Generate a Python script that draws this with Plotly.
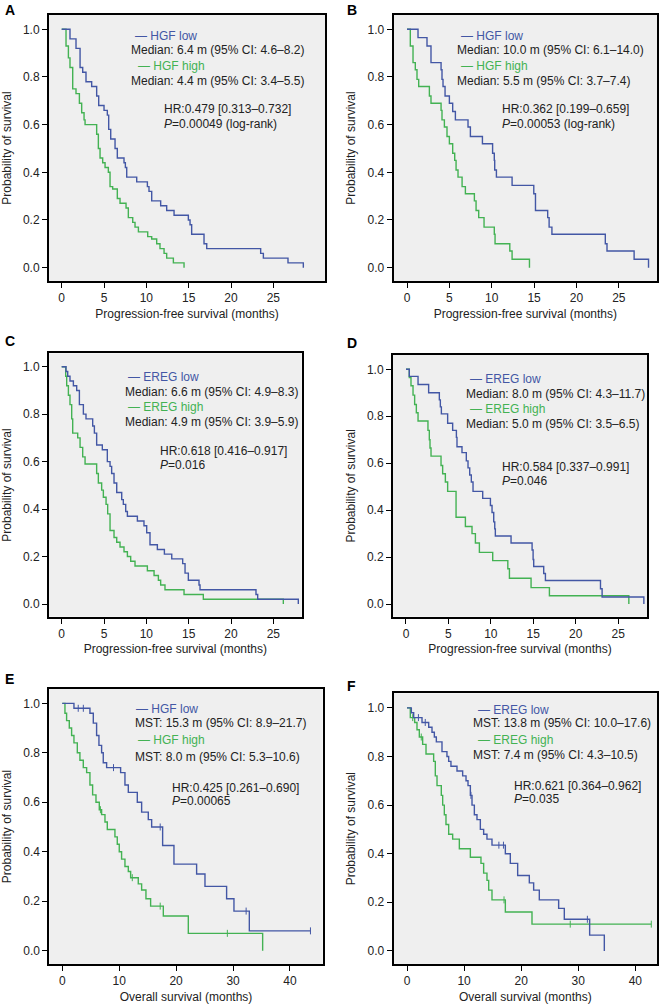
import plotly.graph_objects as go

# ---- data (months, survival probability) ----
a_low_t = [0.98, 1.69, 2.17, 2.48, 2.87, 3.54, 4.13, 4.37, 5.0, 5.39, 5.55, 5.79, 6.3, 6.57, 7.36, 7.52, 7.68,
           8.86, 10.12, 10.31, 10.63, 11.69, 12.4, 13.27, 14.96, 15.16, 15.35, 16.81, 17.13, 23.5, 23.82, 26.73, 28.54]
a_low_s = [0.96, 0.92, 0.84, 0.82, 0.78, 0.76, 0.72, 0.68, 0.66, 0.64, 0.58, 0.54, 0.50, 0.46, 0.44, 0.42, 0.38,
           0.36, 0.34, 0.32, 0.28, 0.26, 0.24, 0.22, 0.20, 0.18, 0.14, 0.10, 0.08, 0.06, 0.04, 0.02, 0.0]
a_high_t = [0.51, 0.79, 0.98, 1.30, 1.69, 2.09, 2.36, 2.64, 2.76, 4.13, 4.33, 4.53, 4.84, 5.12, 5.51, 5.71, 6.02,
            6.57, 6.89, 7.6, 7.87, 8.39, 8.66, 9.06, 10.16, 10.63, 11.22, 11.61, 12.09, 12.4, 13.19, 14.45]
a_high_s = [0.93, 0.88, 0.84, 0.75, 0.73, 0.69, 0.65, 0.62, 0.60, 0.56, 0.50, 0.46, 0.44, 0.42, 0.40, 0.34, 0.33,
            0.29, 0.27, 0.25, 0.21, 0.19, 0.17, 0.15, 0.13, 0.12, 0.10, 0.08, 0.06, 0.04, 0.02, 0.0]

b_low_t = [1.3, 2.36, 2.83, 4.02, 4.13, 4.25, 4.49, 5.0, 5.39, 5.71, 7.2, 7.48, 8.9, 10.1, 10.3, 10.35, 10.55,
           12.4, 14.96, 15.16, 16.6, 16.77, 17.1, 23.4, 23.6, 26.8, 28.5]
b_low_s = [0.965, 0.93, 0.86, 0.83, 0.79, 0.76, 0.72, 0.69, 0.655, 0.62, 0.59, 0.55, 0.52, 0.48, 0.45, 0.41, 0.38,
           0.345, 0.31, 0.24, 0.21, 0.17, 0.14, 0.10, 0.07, 0.035, 0.0]
b_high_t = [0.39, 0.71, 0.98, 1.18, 1.38, 2.64, 2.83, 4.02, 4.13, 4.41, 4.72, 5.0, 5.39, 5.63, 5.79, 6.02, 6.5,
            6.89, 7.95, 8.15, 8.46, 9.09, 10.3, 10.39, 12.13, 12.4, 14.45]
b_high_s = [0.93, 0.86, 0.83, 0.79, 0.76, 0.72, 0.69, 0.66, 0.62, 0.59, 0.55, 0.52, 0.48, 0.45, 0.41, 0.38, 0.34,
            0.31, 0.28, 0.24, 0.21, 0.17, 0.14, 0.10, 0.07, 0.035, 0.0]

c_low_t = [0.51, 0.71, 0.98, 1.38, 1.77, 2.09, 2.56, 2.87, 3.66, 3.86, 4.13, 4.8, 5.39, 5.71, 5.9, 6.18, 6.5,
           7.09, 7.28, 7.56, 7.76, 8.94, 9.72, 10.04, 10.43, 11.3, 12.13, 13.0, 14.29, 14.57, 14.96, 16.22, 16.34,
           22.95, 23.15, 27.95]
c_low_s = [0.98, 0.96, 0.94, 0.92, 0.90, 0.84, 0.80, 0.78, 0.75, 0.72, 0.67, 0.65, 0.60, 0.58, 0.55, 0.51, 0.47,
           0.44, 0.42, 0.39, 0.37, 0.35, 0.33, 0.30, 0.25, 0.23, 0.21, 0.19, 0.17, 0.13, 0.10, 0.08, 0.06,
           0.04, 0.02, 0.0]
c_high_t = [0.47, 0.59, 0.79, 0.98, 1.18, 1.30, 1.89, 2.17, 2.48, 2.76, 4.13, 4.33, 4.72, 4.92, 5.24, 5.43, 5.71,
            6.18, 6.5, 6.89, 7.36, 7.76, 8.15, 8.66, 10.12, 10.91, 11.42, 11.69, 12.2, 14.45, 16.73, 26.18]
c_high_s = [0.96, 0.92, 0.88, 0.84, 0.78, 0.72, 0.70, 0.66, 0.62, 0.59, 0.55, 0.51, 0.48, 0.45, 0.42, 0.38, 0.31,
            0.28, 0.26, 0.24, 0.22, 0.20, 0.18, 0.16, 0.14, 0.12, 0.10, 0.08, 0.06, 0.04, 0.02, 0.0]

d_low_t = [0.39, 1.42, 2.67, 3.93, 4.05, 4.17, 4.91, 5.5, 5.94, 6.01, 6.6, 7.11, 7.31, 7.51, 7.7, 7.9, 9.04,
           9.95, 10.14, 10.34, 10.46, 10.53, 12.38, 14.86, 14.98, 15.05, 16.23, 16.43, 22.92, 23.11, 28.03]
d_low_s = [0.97, 0.935, 0.90, 0.87, 0.84, 0.81, 0.77, 0.74, 0.71, 0.67, 0.645, 0.61, 0.58, 0.55, 0.52, 0.48, 0.45,
           0.42, 0.39, 0.35, 0.32, 0.29, 0.26, 0.23, 0.19, 0.16, 0.13, 0.10, 0.065, 0.03, 0.0]
d_high_t = [0.39, 0.59, 0.83, 1.02, 1.22, 1.42, 2.59, 2.75, 2.83, 2.95, 4.13, 4.32, 4.64, 4.91, 5.9, 7.0, 7.78,
            8.18, 8.65, 10.22, 12.0, 12.19, 14.74, 16.9, 26.26]
d_high_s = [0.965, 0.93, 0.89, 0.85, 0.815, 0.78, 0.74, 0.70, 0.665, 0.63, 0.59, 0.555, 0.52, 0.48, 0.37, 0.33, 0.30,
            0.26, 0.22, 0.185, 0.15, 0.11, 0.07, 0.035, 0.0]

e_low_t = [2.05, 4.86, 5.45, 6.03, 6.44, 6.91, 7.2, 7.79, 10.25, 11.01, 11.6, 13.18, 13.94, 15.11, 15.7, 17.63,
           19.62, 23.6, 25.07, 28.87, 30.16, 32.86]
e_low_s = [0.98, 0.96, 0.92, 0.87, 0.83, 0.80, 0.76, 0.74, 0.72, 0.67, 0.64, 0.60, 0.56, 0.53, 0.50, 0.425,
           0.35, 0.31, 0.26, 0.21, 0.16, 0.08]
e_low_end = 43.6
e_low_cens = [2.8, 3.7, 9.0, 17.2, 32.3, 43.6]
e_high_t = [0.47, 0.76, 1.23, 1.64, 2.05, 2.64, 3.1, 3.69, 4.28, 4.86, 5.33, 5.92, 6.5, 6.91, 7.5, 7.91, 9.25,
            9.66, 10.01, 10.42, 11.01, 11.6, 12.01, 13.35, 13.94, 14.7, 15.52, 17.75, 22.14, 35.2]
e_high_s = [0.96, 0.93, 0.90, 0.87, 0.84, 0.80, 0.77, 0.74, 0.72, 0.67, 0.63, 0.60, 0.57, 0.55, 0.52, 0.49, 0.46,
            0.43, 0.40, 0.37, 0.34, 0.32, 0.295, 0.27, 0.245, 0.21, 0.18, 0.14, 0.07, 0.0]
e_high_cens = [6.7, 12.3, 17.2, 29.0]

f_low_t = [0.76, 1.17, 2.63, 3.8, 4.38, 4.79, 5.14, 6.13, 7.0, 7.3, 7.7, 8.76, 9.75, 10.34, 10.69, 11.1, 11.39,
           11.8, 12.26, 12.85, 13.43, 14.01, 14.89, 17.23, 18.1, 19.39, 21.43, 22.19, 23.18, 26.57, 27.56, 32.0, 34.57]
f_low_s = [0.98, 0.96, 0.94, 0.92, 0.90, 0.88, 0.86, 0.82, 0.80, 0.78, 0.76, 0.74, 0.72, 0.70, 0.68, 0.64, 0.60,
           0.56, 0.54, 0.50, 0.48, 0.46, 0.435, 0.40, 0.36, 0.31, 0.28, 0.25, 0.21, 0.175, 0.13, 0.065, 0.0]
f_low_cens = [2.0, 3.2, 11.2, 16.1, 16.9, 31.6]
f_high_t = [0.58, 1.34, 1.75, 2.16, 2.74, 3.33, 4.67, 4.96, 5.26, 6.01, 6.25, 6.54, 6.83, 7.3, 8.0, 9.17, 11.1,
            12.96, 13.43, 14.01, 14.31, 14.89, 17.23, 21.9]
f_high_s = [0.96, 0.94, 0.91, 0.88, 0.85, 0.81, 0.78, 0.72, 0.68, 0.64, 0.60, 0.56, 0.52, 0.48, 0.46, 0.42, 0.385,
            0.36, 0.32, 0.29, 0.25, 0.21, 0.16, 0.11]
f_high_end = 42.8
f_high_cens = [1.0, 2.5, 17.0, 28.6, 42.8]

pfs_ticks = [0, 5, 10, 15, 20, 25]
os_ticks = [0, 10, 20, 30, 40]
y_ticks = [0.0, 0.2, 0.4, 0.6, 0.8, 1.0]

BLUE = '#4357a5'
GREEN = '#43b253'
FONT = 'Liberation Sans, Arial, sans-serif'
W, H = 664, 1005

# panel: letter, box in px (left, top, right, bottom), x range, y range, ticks, x title, curves, texts
panels = [
    dict(letter='A', box=(49, 15, 325, 281), xr=[-1.5, 31.1], yr=[-0.056, 1.06], ticks=pfs_ticks,
         xtitle='Progression-free survival (months)',
         low=(a_low_t, a_low_s, None, []), high=(a_high_t, a_high_s, None, []),
         names=('HGF low', 'HGF high'),
         stat=('Median: 6.4 m (95% CI: 4.6–8.2)', 'Median: 4.4 m (95% CI: 3.4–5.5)'),
         hr=('HR:0.479 [0.313–0.732]', '<i>P</i>=0.00049 (log-rank)'),
         pos=[(133, 35.7), (129.3, 50), (136, 65.7), (129.3, 80.7), (161.7, 109), (161.7, 124)],
         lpos=(3, 10)),
    dict(letter='B', box=(393.7, 15, 657, 281), xr=[-1.57, 29.5], yr=[-0.056, 1.06], ticks=pfs_ticks,
         xtitle='Progression-free survival (months)',
         low=(b_low_t, b_low_s, None, []), high=(b_high_t, b_high_s, None, []),
         names=('HGF low', 'HGF high'),
         stat=('Median: 10.0 m (95% CI: 6.1–14.0)', 'Median: 5.5 m (95% CI: 3.7–7.4)'),
         hr=('HR:0.362 [0.199–0.659]', '<i>P</i>=0.00053 (log-rank)'),
         pos=[(458.7, 35.7), (454.7, 50), (458.7, 65.7), (454.7, 80.7), (499.7, 109), (499.7, 124)],
         lpos=(345, 10)),
    dict(letter='C', box=(49, 353.3, 301.7, 616.7), xr=[-1.5, 28.35], yr=[-0.0535, 1.0565], ticks=pfs_ticks,
         xtitle='Progression-free survival (months)',
         low=(c_low_t, c_low_s, None, []), high=(c_high_t, c_high_s, None, []),
         names=('EREG low', 'EREG high'),
         stat=('Median: 6.6 m (95% CI: 4.9–8.3)', 'Median: 4.9 m (95% CI: 3.9–5.9)'),
         hr=('HR:0.618 [0.416–0.917]', '<i>P</i>=0.016'),
         pos=[(126, 377.3), (122.7, 392.3), (126, 407.3), (122.7, 422.3), (158.3, 450.7), (158.3, 465)],
         lpos=(3, 341)),
    dict(letter='D', box=(393, 355, 647, 616.7), xr=[-1.53, 28.4], yr=[-0.054, 1.061], ticks=pfs_ticks,
         xtitle='Progression-free survival (months)',
         low=(d_low_t, d_low_s, None, []), high=(d_high_t, d_high_s, None, []),
         names=('EREG low', 'EREG high'),
         stat=('Median: 8.0 m (95% CI: 4.3–11.7)', 'Median: 5.0 m (95% CI: 3.5–6.5)'),
         hr=('HR:0.584 [0.337–0.991]', '<i>P</i>=0.046'),
         pos=[(468, 379), (464.3, 394), (468, 409), (464.3, 424), (499.7, 466.7), (499.7, 480.7)],
         lpos=(345, 343)),
    dict(letter='E', box=(49.3, 689, 322.7, 964), xr=[-2.28, 45.75], yr=[-0.054, 1.058], ticks=os_ticks,
         xtitle='Overall survival (months)',
         low=(e_low_t, e_low_s, e_low_end, e_low_cens), high=(e_high_t, e_high_s, None, e_high_cens),
         names=('HGF low', 'HGF high'),
         stat=('MST: 15.3 m (95% CI: 8.9–21.7)', 'MST: 8.0 m (95% CI: 5.3–10.6)'),
         hr=('HR:0.425 [0.261–0.690]', '<i>P</i>=0.00065'),
         pos=[(134.3, 709), (133.3, 723.3), (136, 740), (133.3, 756.7), (170, 788.3), (170, 800.7)],
         lpos=(3, 679)),
    dict(letter='F', box=(393.7, 693.3, 657, 964), xr=[-2.33, 43.8], yr=[-0.054, 1.06], ticks=os_ticks,
         xtitle='Overall survival (months)',
         low=(f_low_t, f_low_s, None, f_low_cens), high=(f_high_t, f_high_s, f_high_end, f_high_cens),
         names=('EREG low', 'EREG high'),
         stat=('MST: 13.8 m (95% CI: 10.0–17.6)', 'MST: 7.4 m (95% CI: 4.3–10.5)'),
         hr=('HR:0.621 [0.364–0.962]', '<i>P</i>=0.035'),
         pos=[(476, 710), (471, 723.3), (476, 740), (471, 755), (512, 786), (512, 799.3)],
         lpos=(345, 686)),
]


def surv_at(t_list, s_list, t):
    s = 1.0
    for ti, si in zip(t_list, s_list):
        if ti <= t:
            s = si
    return s


def px(x, y):
    return x / W, 1 - y / H


fig = go.Figure()
annotations = []
layout = {}

for i, p in enumerate(panels):
    n = '' if i == 0 else str(i + 1)
    xa, ya = 'x' + n, 'y' + n
    l, t, r, b = p['box']
    layout['xaxis' + n] = dict(
        domain=[l / W, r / W], anchor=ya, range=p['xr'], tickvals=p['ticks'],
        showgrid=False, zeroline=False, showline=True, mirror=True, linecolor='black', linewidth=2,
        ticks='outside', ticklen=5, tickcolor='black', tickwidth=1.2,
        tickfont=dict(family=FONT, size=12, color='#222'), automargin=False,
        title=dict(text=p['xtitle'], font=dict(family=FONT, size=12, color='#222'), standoff=5))
    layout['yaxis' + n] = dict(
        domain=[1 - b / H, 1 - t / H], anchor=xa, range=p['yr'], tickvals=y_ticks, tickformat='.1f',
        showgrid=False, zeroline=False, showline=True, mirror=True, linecolor='black', linewidth=2,
        ticks='outside', ticklen=5, tickcolor='black', tickwidth=1.2,
        tickfont=dict(family=FONT, size=12, color='#222'), automargin=False,
        title=dict(text='Probability of survival', font=dict(family=FONT, size=12, color='#222'), standoff=9))

    for (tt, ss, end, cens), col in ((p['high'], GREEN), (p['low'], BLUE)):
        xs = [0] + list(tt)
        ys = [1.0] + list(ss)
        if end is not None:
            xs.append(end)
            ys.append(ss[-1])
        fig.add_trace(go.Scatter(x=xs, y=ys, mode='lines', line=dict(color=col, width=1.4, shape='hv'),
                                 xaxis=xa, yaxis=ya, showlegend=False, hoverinfo='skip'))
        if cens:
            fig.add_trace(go.Scatter(x=cens, y=[surv_at(tt, ss, c) for c in cens], mode='markers',
                                     marker=dict(symbol='line-ns', size=5, line=dict(color=col, width=1)),
                                     xaxis=xa, yaxis=ya, showlegend=False, hoverinfo='skip'))

    texts = [('— ' + p['names'][0], BLUE), (p['stat'][0], '#222'), ('— ' + p['names'][1], GREEN),
             (p['stat'][1], '#222'), (p['hr'][0], '#222'), (p['hr'][1], '#222')]
    for (txt, col), (x0, y0) in zip(texts, p['pos']):
        ax, ay = px(x0, y0)
        annotations.append(dict(text=txt, x=ax, y=ay, xref='paper', yref='paper', xanchor='left',
                                yanchor='middle', showarrow=False,
                                font=dict(family=FONT, size=12, color=col)))
    lx, ly = px(*p['lpos'])
    annotations.append(dict(text='<b>' + p['letter'] + '</b>', x=lx, y=ly, xref='paper', yref='paper',
                            xanchor='left', yanchor='middle', showarrow=False,
                            font=dict(family=FONT, size=14, color='black')))

fig.update_layout(**layout)
fig.update_layout(width=W, height=H, margin=dict(l=0, r=0, t=0, b=0),
                  plot_bgcolor='#efefef', paper_bgcolor='white', annotations=annotations)

# page has a default 8px body margin; drop it so the figure sits at the window origin
fig.write_html("out.html", config={'displayModeBar': False},
               post_script="document.body.style.margin='0';")
